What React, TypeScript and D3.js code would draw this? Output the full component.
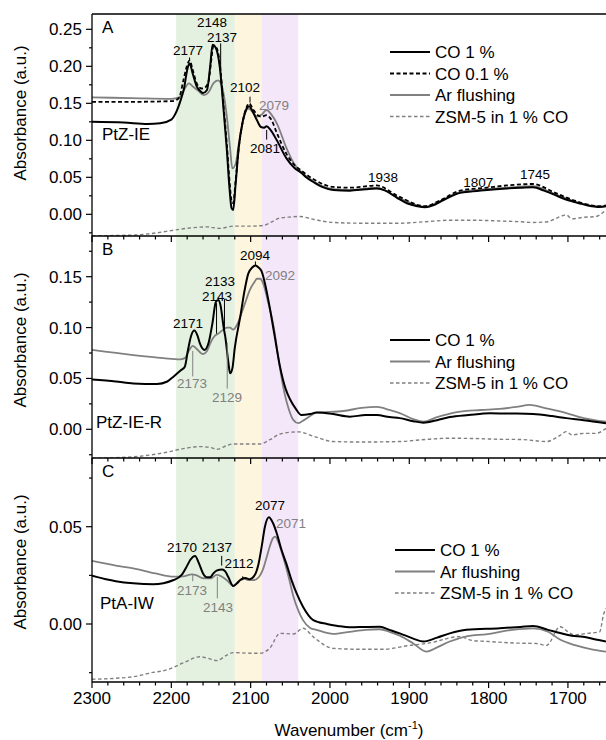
import React from 'react';
import * as d3 from 'd3';

// wavenumber (cm-1), absorbance (a.u.)
const aCO1 = [[2300,0.125],[2260,0.124],[2230,0.122],[2214,0.123],[2200,0.128],[2193,0.140],[2188,0.155],[2184,0.170],[2180,0.195],[2177,0.204],[2173,0.190],[2168,0.173],[2163,0.166],[2160,0.164],[2155,0.168],[2151,0.200],[2148,0.229],[2144,0.225],[2139,0.200],[2134,0.140],[2130,0.087],[2127,0.040],[2124,0.008],[2122,0.006],[2119,0.040],[2115,0.090],[2110,0.125],[2105,0.143],[2102,0.146],[2097,0.138],[2092,0.127],[2087,0.118],[2083,0.117],[2080,0.119],[2075,0.114],[2067,0.100],[2055,0.076],[2045,0.063],[2036,0.056],[2030,0.050],[2020,0.043],[2010,0.037],[1996,0.033],[1975,0.032],[1955,0.034],[1941,0.035],[1930,0.032],[1915,0.022],[1903,0.015],[1890,0.011],[1880,0.0095],[1870,0.012],[1861,0.017],[1848,0.024],[1836,0.029],[1820,0.031],[1802,0.033],[1777,0.035],[1760,0.036],[1744,0.0365],[1730,0.032],[1718,0.027],[1705,0.021],[1693,0.017],[1675,0.012],[1660,0.010],[1652,0.011]];
const aCO01 = [[2300,0.152],[2250,0.152],[2200,0.153],[2195,0.154],[2190,0.158],[2185,0.180],[2181,0.198],[2177,0.208],[2173,0.195],[2168,0.177],[2162,0.170],[2158,0.171],[2153,0.180],[2150,0.205],[2147,0.227],[2143,0.225],[2139,0.205],[2134,0.145],[2130,0.095],[2127,0.050],[2124,0.018],[2122,0.015],[2119,0.045],[2115,0.090],[2110,0.125],[2105,0.145],[2102,0.150],[2097,0.142],[2092,0.135],[2086,0.132],[2080,0.134],[2074,0.128],[2067,0.110],[2055,0.082],[2045,0.067],[2036,0.059],[2020,0.047],[1996,0.037],[1975,0.036],[1941,0.039],[1915,0.025],[1880,0.011],[1861,0.019],[1836,0.032],[1802,0.036],[1777,0.039],[1744,0.041],[1718,0.030],[1693,0.019],[1660,0.011],[1652,0.012]];
const aAr = [[2300,0.158],[2250,0.157],[2200,0.156],[2190,0.158],[2184,0.168],[2178,0.177],[2172,0.172],[2166,0.167],[2159,0.161],[2153,0.165],[2147,0.177],[2141,0.181],[2136,0.172],[2130,0.132],[2126,0.090],[2123,0.062],[2119,0.068],[2115,0.095],[2110,0.125],[2103,0.143],[2097,0.138],[2092,0.132],[2086,0.135],[2080,0.141],[2074,0.135],[2067,0.123],[2055,0.090],[2045,0.068],[2036,0.057],[2020,0.044],[1996,0.034],[1975,0.033],[1941,0.036],[1915,0.023],[1880,0.010],[1861,0.018],[1836,0.030],[1802,0.034],[1777,0.036],[1744,0.038],[1718,0.028],[1693,0.018],[1660,0.010],[1652,0.011]];
const aZSM = [[2300,-0.029],[2248,-0.028],[2225,-0.026],[2206,-0.023],[2181,-0.019],[2155,-0.017],[2139,-0.019],[2122,-0.016],[2100,-0.016],[2084,-0.015],[2075,-0.011],[2063,-0.005],[2038,-0.003],[2020,-0.007],[1996,-0.011],[1960,-0.012],[1912,-0.012],[1880,-0.010],[1849,-0.008],[1820,-0.008],[1786,-0.009],[1760,-0.010],[1744,-0.011],[1725,-0.010],[1718,-0.007],[1702,-0.001],[1695,-0.006],[1680,-0.004],[1665,-0.003],[1652,0.006]];

const bCO1 = [[2300,0.049],[2270,0.047],[2248,0.045],[2218,0.0445],[2205,0.047],[2197,0.052],[2188,0.058],[2183,0.0615],[2179,0.078],[2175,0.092],[2171,0.097],[2167,0.092],[2164,0.0845],[2158,0.078],[2153,0.085],[2148,0.105],[2144,0.125],[2141,0.127],[2138,0.122],[2134,0.100],[2132,0.091],[2128,0.065],[2126,0.055],[2123,0.060],[2120,0.080],[2113,0.111],[2108,0.135],[2103,0.153],[2098,0.159],[2094,0.161],[2090,0.159],[2086,0.155],[2081,0.140],[2076,0.120],[2070,0.093],[2063,0.0616],[2056,0.040],[2050,0.029],[2043,0.020],[2036,0.014],[2025,0.015],[2017,0.0164],[1996,0.015],[1975,0.0124],[1955,0.014],[1941,0.014],[1925,0.012],[1912,0.011],[1895,0.008],[1882,0.0065],[1865,0.009],[1849,0.012],[1825,0.014],[1798,0.0157],[1770,0.0155],[1744,0.015],[1720,0.013],[1702,0.011],[1680,0.009],[1652,0.006]];
const bAr = [[2300,0.078],[2248,0.073],[2210,0.070],[2189,0.0688],[2183,0.070],[2178,0.077],[2173,0.082],[2168,0.079],[2160,0.074],[2155,0.077],[2150,0.086],[2145,0.092],[2141,0.094],[2136,0.097],[2130,0.100],[2126,0.100],[2122,0.098],[2117,0.103],[2113,0.111],[2107,0.124],[2101,0.137],[2095,0.145],[2092,0.148],[2088,0.148],[2084,0.143],[2078,0.125],[2071,0.101],[2065,0.070],[2059,0.042],[2052,0.020],[2046,0.009],[2040,0.006],[2035,0.008],[2025,0.013],[2017,0.0164],[1983,0.018],[1960,0.021],[1941,0.022],[1925,0.019],[1912,0.016],[1895,0.010],[1882,0.0075],[1865,0.012],[1840,0.017],[1810,0.019],[1786,0.020],[1765,0.022],[1748,0.024],[1730,0.021],[1702,0.016],[1680,0.011],[1652,0.0075]];
const bZSM = [[2300,-0.0285],[2248,-0.027],[2206,-0.0226],[2185,-0.019],[2164,-0.017],[2150,-0.018],[2143,-0.0197],[2130,-0.016],[2122,-0.0144],[2100,-0.0145],[2088,-0.0144],[2075,-0.010],[2063,-0.0046],[2040,-0.0025],[2020,-0.007],[1996,-0.012],[1960,-0.0125],[1912,-0.012],[1880,-0.010],[1849,-0.0088],[1820,-0.009],[1786,-0.0098],[1760,-0.010],[1727,-0.012],[1710,-0.006],[1702,-0.0023],[1695,-0.0055],[1680,-0.004],[1665,-0.004],[1652,0.001]];

const cCO1 = [[2300,0.0248],[2270,0.022],[2248,0.0209],[2223,0.0204],[2197,0.0226],[2187,0.0252],[2180,0.030],[2176,0.033],[2170,0.035],[2165,0.031],[2160,0.026],[2155,0.024],[2151,0.024],[2147,0.026],[2143,0.0274],[2136,0.028],[2132,0.027],[2128,0.024],[2122,0.0195],[2117,0.021],[2113,0.0226],[2107,0.0236],[2101,0.023],[2095,0.025],[2090,0.031],[2086,0.040],[2082,0.050],[2077,0.0548],[2072,0.052],[2067,0.0465],[2061,0.038],[2055,0.031],[2048,0.022],[2042,0.0157],[2034,0.0089],[2021,0.002],[2004,0.0],[1990,-0.001],[1975,-0.0017],[1955,-0.0015],[1937,-0.0014],[1925,-0.003],[1912,-0.0048],[1895,-0.0075],[1882,-0.009],[1865,-0.007],[1849,-0.0048],[1828,-0.003],[1786,-0.0022],[1760,-0.0015],[1744,-0.001],[1725,-0.003],[1710,-0.0046],[1695,-0.006],[1681,-0.0065],[1665,-0.008],[1652,-0.009]];
const cAr = [[2300,0.0324],[2270,0.030],[2248,0.0286],[2220,0.026],[2197,0.0243],[2185,0.0245],[2174,0.0255],[2168,0.025],[2160,0.0235],[2150,0.0235],[2143,0.0252],[2137,0.0245],[2130,0.0225],[2122,0.0197],[2115,0.022],[2109,0.0235],[2103,0.0225],[2097,0.0225],[2090,0.024],[2084,0.0286],[2080,0.034],[2076,0.0397],[2072,0.044],[2069,0.0449],[2065,0.042],[2059,0.0344],[2052,0.024],[2046,0.014],[2040,0.007],[2034,0.002],[2025,-0.002],[2017,-0.003],[1996,-0.0051],[1975,-0.004],[1955,-0.003],[1937,-0.0027],[1925,-0.004],[1912,-0.006],[1895,-0.010],[1878,-0.0142],[1865,-0.012],[1849,-0.009],[1820,-0.0058],[1807,-0.0055],[1770,-0.003],[1744,-0.0022],[1725,-0.004],[1710,-0.008],[1690,-0.011],[1670,-0.013],[1652,-0.0142]];
const cZSM = [[2300,-0.0284],[2248,-0.0271],[2225,-0.025],[2206,-0.0236],[2185,-0.020],[2164,-0.0168],[2155,-0.0175],[2143,-0.0188],[2130,-0.016],[2122,-0.0147],[2100,-0.015],[2088,-0.015],[2076,-0.0125],[2063,-0.0048],[2046,-0.0051],[2034,-0.0022],[2020,-0.007],[1996,-0.0125],[1960,-0.013],[1933,-0.013],[1900,-0.011],[1878,-0.010],[1836,-0.0065],[1820,-0.0085],[1800,-0.009],[1765,-0.0098],[1740,-0.010],[1727,-0.011],[1710,-0.0014],[1700,-0.004],[1693,-0.0056],[1675,-0.0048],[1660,-0.004],[1655,0.005],[1652,0.008]];

// peak labels: [text, wn, value, grey?]
const aLabels = [['2177',2179,0.2157,0],['2148',2148.7,0.2525,0],['2137',2136,0.2325,0],['2102',2107,0.1657,0],['2079',2070.6,0.1414,1],['2081',2082,0.0832,0],['1938',1933,0.044,0],['1807',1813,0.0373,0],['1745',1741.6,0.0481,0]];
const bLabels = [['2094',2094.5,0.1668,0],['2092',2063,0.1471,1],['2133',2138.7,0.1412,0],['2143',2142.4,0.1265,0],['2171',2179,0.0999,0],['2173',2174,0.0409,1],['2129',2129.8,0.0271,1]];
const cLabels = [['2077',2075.6,0.0587,0],['2071',2049,0.0494,1],['2170',2186.6,0.0371,0],['2137',2142.4,0.0371,0],['2112',2114.7,0.0289,0],['2173',2174,0.015,1],['2143',2141,0.0063,1]];
// leader lines: [wn, from, to, grey?]
const aLeaders = [[2137.8,0.231,0.184,0],[2100.8,0.159,0.151,0],[2079.8,0.114,0.101,0],[2177,0.212,0.207,0]];
const bLeaders = [[2173,0.077,0.052,1],[2129.5,0.085,0.040,1],[2143,0.124,0.094,0],[2133,0.128,0.093,0],[2094,0.165,0.161,0]];
const cLeaders = [[2142,0.0243,0.0132,1],[2136.5,0.035,0.030,0],[2173,0.0255,0.022,1],[2110,0.0245,0.0225,0]];

const bands = [[2194, 2120, '#e4f1e0'], [2120, 2086, '#fdf5dd'], [2086, 2040, '#f4e7fa']];
const legendA = ['CO 1 %', 'CO 0.1 %', 'Ar flushing', 'ZSM-5 in 1 % CO'];
const legendBC = ['CO 1 %', 'Ar flushing', 'ZSM-5 in 1 % CO'];
const xMajor = [2300, 2200, 2100, 2000, 1900, 1800, 1700];

const FONT = 'Arial, "Liberation Sans", sans-serif';
const GREY = '#808080';
const styles = {
  'CO 1 %': { stroke: '#000', width: 2, dash: null },
  'CO 0.1 %': { stroke: '#000', width: 1.8, dash: '4,2.5' },
  'Ar flushing': { stroke: GREY, width: 1.8, dash: null },
  'ZSM-5 in 1 % CO': { stroke: GREY, width: 1.4, dash: '3.5,2.5' },
};

const x = d3.scaleLinear().domain([2300, 1652]).range([92, 606]);

const panels = [
  { letter: 'A', name: 'PtZ-IE', top: 14, bottom: 236, domain: [-0.0293, 0.2707], major: [0, 0.05, 0.1, 0.15, 0.2, 0.25],
    series: [['ZSM-5 in 1 % CO', aZSM], ['Ar flushing', aAr], ['CO 0.1 %', aCO01], ['CO 1 %', aCO1]],
    labels: aLabels, leaders: aLeaders, legend: legendA, legendX: 390, legendY: 52, titleY: 113, nameY: 0.1, nameX: 102 },
  { letter: 'B', name: 'PtZ-IE-R', top: 236, bottom: 458, domain: [-0.0282, 0.19], major: [0, 0.05, 0.1, 0.15],
    series: [['ZSM-5 in 1 % CO', bZSM], ['Ar flushing', bAr], ['CO 1 %', bCO1]],
    labels: bLabels, leaders: bLeaders, legend: legendBC, legendX: 390, legendY: 340, titleY: 340, nameY: 0.0013, nameX: 96 },
  { letter: 'C', name: 'PtA-IW', top: 458, bottom: 682, domain: [-0.0298, 0.0853], major: [0, 0.05],
    series: [['ZSM-5 in 1 % CO', cZSM], ['Ar flushing', cAr], ['CO 1 %', cCO1]],
    labels: cLabels, leaders: cLeaders, legend: legendBC, legendX: 395, legendY: 550, titleY: 562, nameY: 0.0077, nameX: 100 },
];

function Panel({ p, last }) {
  const y = d3.scaleLinear().domain(p.domain).range([p.bottom, p.top]);
  const line = d3.line().x(d => x(d[0])).y(d => y(d[1])).curve(d3.curveMonotoneX);
  const minor = d3.range(-0.025, p.domain[1], 0.05).filter(v => v > p.domain[0]);
  const xMinor = d3.range(2300, 1650, -20).filter(v => !xMajor.includes(v));
  return (
    <g>
      <defs>
        <clipPath id={'clip' + p.letter}>
          <rect x={92} y={p.top} width={514} height={p.bottom - p.top} />
        </clipPath>
      </defs>
      <g clipPath={`url(#clip${p.letter})`}>
        {p.series.map(([key, data]) => (
          <path key={key} d={line(data)} fill="none" stroke={styles[key].stroke}
            strokeWidth={styles[key].width} strokeDasharray={styles[key].dash || undefined} strokeLinejoin="round" />
        ))}
      </g>
      {p.leaders.map((l, i) => (
        <line key={'ld' + i} x1={x(l[0])} x2={x(l[0])} y1={y(l[1])} y2={y(l[2])} stroke={l[3] ? GREY : '#000'} strokeWidth={1} />
      ))}
      {p.labels.map((l, i) => (
        <text key={'lb' + i} x={x(l[1])} y={y(l[2])} textAnchor="middle" fontSize={13.5} fill={l[3] ? GREY : '#000'}>{l[0]}</text>
      ))}
      <text x={102} y={p.top + 19} fontSize={17}>{p.letter}</text>
      <text x={p.nameX} y={y(p.nameY)} fontSize={17}>{p.name}</text>
      {p.legend.map((key, i) => {
        const ly = p.legendY + i * 21.5;
        const s = styles[key];
        return (
          <g key={key}>
            <line x1={p.legendX} x2={p.legendX + 40} y1={ly} y2={ly} stroke={s.stroke} strokeWidth={s.width} strokeDasharray={s.dash || undefined} />
            <text x={p.legendX + 45} y={ly + 6} fontSize={17}>{key}</text>
          </g>
        );
      })}
      {/* y axis */}
      <line x1={92} x2={92} y1={p.top} y2={p.bottom} stroke="#000" strokeWidth={1.3} />
      {p.major.map(v => (
        <g key={'ym' + v}>
          <line x1={86} x2={92} y1={y(v)} y2={y(v)} stroke="#000" strokeWidth={1.2} />
          <text x={82} y={y(v) + 6} textAnchor="end" fontSize={17}>{d3.format('.2f')(v)}</text>
        </g>
      ))}
      {minor.map(v => (
        <line key={'yn' + v} x1={89} x2={92} y1={y(v)} y2={y(v)} stroke="#000" strokeWidth={1.2} />
      ))}
      <text transform={`translate(26,${p.titleY}) rotate(-90)`} textAnchor="middle" fontSize={17}>Absorbance (a.u.)</text>
      {/* bottom axis */}
      <line x1={92} x2={606} y1={p.bottom} y2={p.bottom} stroke="#000" strokeWidth={1.5} />
      {xMajor.map(v => (
        <g key={'xm' + v}>
          <line x1={x(v)} x2={x(v)} y1={p.bottom} y2={p.bottom + 6} stroke="#000" strokeWidth={1.2} />
          {last && <text x={x(v)} y={p.bottom + 22} textAnchor="middle" fontSize={17}>{v}</text>}
        </g>
      ))}
      {xMinor.map(v => (
        <line key={'xn' + v} x1={x(v)} x2={x(v)} y1={p.bottom} y2={p.bottom + 3.5} stroke="#000" strokeWidth={1.2} />
      ))}
    </g>
  );
}

export default function App() {
  return (
    <svg width={606} height={740} style={{ position: 'absolute', left: 0, top: 0, background: '#fff' }} fontFamily={FONT}>
      <rect width={606} height={740} fill="#fff" />
      {bands.map(([a, b, c]) => (
        <rect key={a} x={x(a)} y={14} width={x(b) - x(a)} height={682 - 14} fill={c} />
      ))}
      <line x1={92} x2={606} y1={14} y2={14} stroke="#000" strokeWidth={1.5} />
      {panels.map((p, i) => <Panel key={p.letter} p={p} last={i === panels.length - 1} />)}
      <text x={349} y={736} textAnchor="middle" fontSize={17}>
        Wavenumber (cm<tspan fontSize={11} dy={-7}>-1</tspan><tspan dy={7}>)</tspan>
      </text>
    </svg>
  );
}
